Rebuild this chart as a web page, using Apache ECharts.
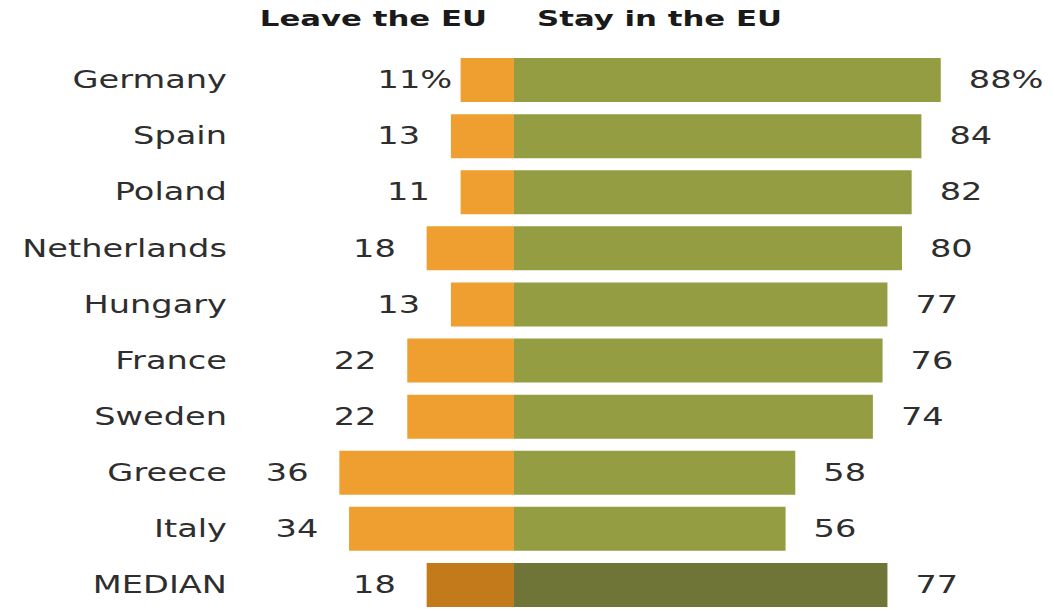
<!DOCTYPE html>
<html>
<head>
<meta charset="utf-8">
<script src="https://cdn.jsdelivr.net/npm/echarts@6/dist/echarts.min.js"></script>
<style>
  html, body { margin: 0; padding: 0; background: #ffffff; overflow: hidden; }
  /* The chart is laid out narrow and widened horizontally, giving the broad lettering of the graphic */
  #chart { width: 753px; height: 613px; transform: scaleX(1.4); transform-origin: 0 0; }
</style>
</head>
<body>
<div id="chart"></div>
<script>
const categories = ['Germany', 'Spain', 'Poland', 'Netherlands', 'Hungary', 'France', 'Sweden', 'Greece', 'Italy', 'MEDIAN'];
const leaveEU = [11, 13, 11, 18, 13, 22, 22, 36, 34, 18];
const stayEU = [88, 84, 82, 80, 77, 76, 74, 58, 56, 77];
const headers = ['Leave the EU', 'Stay in the EU'];

const ORANGE = '#EE9F2F';
const GREEN = '#949D42';
const ORANGE_MEDIAN = '#C27A1B';
const GREEN_MEDIAN = '#6F7536';
const TEXT = '#2e2e2e';
const FONT = 'DejaVu Sans';

const medianIndex = categories.indexOf('MEDIAN');

const leaveData = leaveEU.map((v, i) => {
  const item = { value: -v };
  if (i === medianIndex) item.itemStyle = { color: ORANGE_MEDIAN };
  if (i === 0) item.label = { distance: 6 };
  return item;
});
const stayData = stayEU.map((v, i) => {
  const item = { value: v };
  if (i === medianIndex) item.itemStyle = { color: GREEN_MEDIAN };
  return item;
});

const chart = echarts.init(document.getElementById('chart'), null, { renderer: 'svg' });
chart.setOption({
  animation: false,
  backgroundColor: '#ffffff',
  grid: { left: 193.9, width: 554.3, top: 52, height: 563 },
  xAxis: {
    type: 'value', min: -50, max: 110,
    show: false
  },
  yAxis: {
    type: 'category', data: categories, inverse: true,
    axisLine: { show: false }, axisTick: { show: false }, splitLine: { show: false },
    axisLabel: { fontFamily: FONT, fontSize: 24, color: TEXT, margin: 31.8 }
  },
  graphic: [
    { type: 'text', right: 753 - 347.9, top: 7,
      style: { text: headers[0], fontFamily: FONT, fontSize: 22, fontWeight: 'bold', fill: '#1a1a1a' } },
    { type: 'text', left: 383.6, top: 7,
      style: { text: headers[1], fontFamily: FONT, fontSize: 22, fontWeight: 'bold', fill: '#1a1a1a' } }
  ],
  series: [
    {
      name: headers[0], type: 'bar', data: leaveData, barWidth: 44, barGap: '-100%',
      itemStyle: { color: ORANGE },
      label: {
        show: true, position: 'left', distance: 22,
        fontFamily: FONT, fontSize: 24, color: TEXT,
        formatter: p => Math.abs(p.value) + (p.dataIndex === 0 ? '%' : '')
      }
    },
    {
      name: headers[1], type: 'bar', data: stayData, barWidth: 44, barGap: '-100%',
      itemStyle: { color: GREEN },
      label: {
        show: true, position: 'right', distance: 20,
        fontFamily: FONT, fontSize: 24, color: TEXT,
        formatter: p => p.value + (p.dataIndex === 0 ? '%' : '')
      }
    }
  ]
});
</script>
</body>
</html>
